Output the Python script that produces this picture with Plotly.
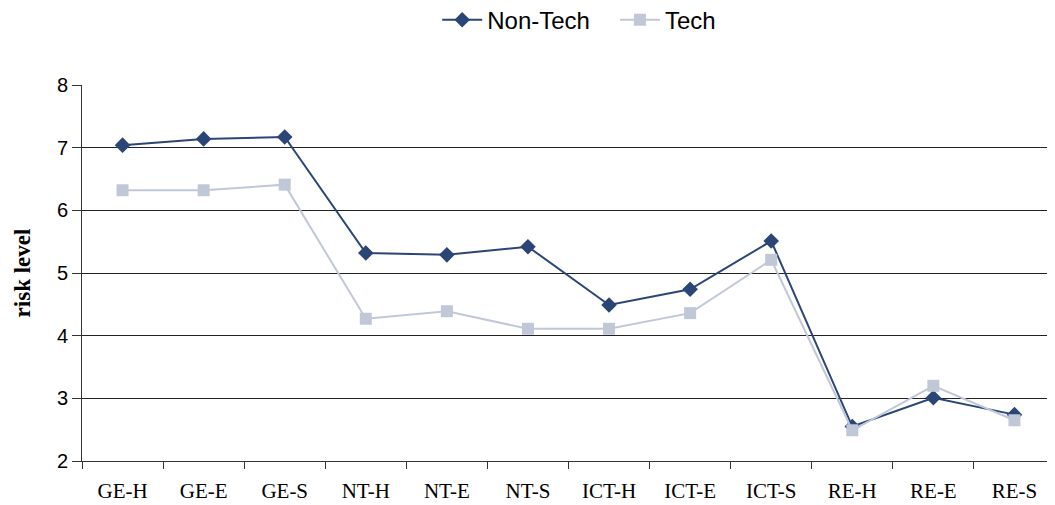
import plotly.graph_objects as go

categories = ["GE-H", "GE-E", "GE-S", "NT-H", "NT-E", "NT-S",
              "ICT-H", "ICT-E", "ICT-S", "RE-H", "RE-E", "RE-S"]
non_tech = [7.04, 7.14, 7.17, 5.32, 5.29, 5.42, 4.49, 4.74, 5.51, 2.55, 3.01, 2.74]
tech = [6.32, 6.32, 6.41, 4.27, 4.39, 4.11, 4.11, 4.36, 5.21, 2.49, 3.20, 2.65]
y_ticks = [2, 3, 4, 5, 6, 7, 8]

fig = go.Figure()
fig.add_trace(go.Scatter(
    x=categories, y=non_tech, name="Non-Tech\u00a0\u00a0\u00a0", mode="lines+markers",
    line=dict(color="#2B4576", width=2),
    marker=dict(symbol="diamond", size=12, color="#2B4576"),
))
fig.add_trace(go.Scatter(
    x=categories, y=tech, name="Tech", mode="lines+markers",
    line=dict(color="#C0C8D8", width=2),
    marker=dict(symbol="square", size=12, color="#C0C8D8"),
))

fig.update_layout(
    width=1055, height=505,
    margin=dict(l=74, r=8, t=77, b=52, autoexpand=False),
    paper_bgcolor="white", plot_bgcolor="white",
    showlegend=True,
    legend=dict(orientation="h", x=0.511, xanchor="center",
                yref="container", y=0.976, yanchor="middle",
                font=dict(family="Liberation Sans, Arial", size=24, color="black"),
                itemwidth=40, tracegroupgap=0),
)
fig.update_xaxes(
    type="category", tickson="boundaries", ticks="outside", ticklen=7,
    tickcolor="#333", showline=True, linecolor="#333", linewidth=1,
    showgrid=False, range=[-0.5, 11.5], ticklabelstandoff=11,
    tickfont=dict(family="Liberation Serif, Times New Roman", size=21, color="black"),
)
fig.update_yaxes(
    range=[2, 8], tickvals=y_ticks, ticks="outside", ticklen=9, tickcolor="#333",
    showline=True, linecolor="#333", linewidth=1,
    showgrid=True, gridcolor="#222", gridwidth=1, zeroline=False,
    tickfont=dict(family="Liberation Sans, Arial", size=20, color="black"),
    title=dict(text="<b>risk level</b>", standoff=19,
               font=dict(family="Liberation Serif, Times New Roman", size=23, color="black")),
)

fig.write_html("out.html")
